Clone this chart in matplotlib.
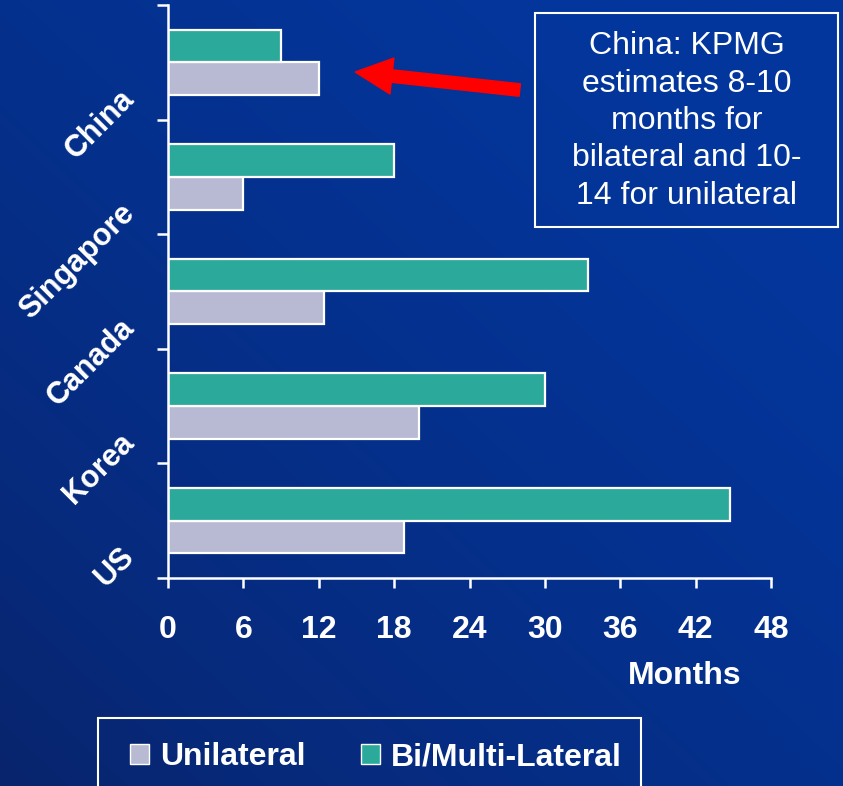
import numpy as np
import matplotlib
matplotlib.use("Agg")
import matplotlib.pyplot as plt
import matplotlib.transforms as mtransforms
from matplotlib.patches import Patch

plt.rcParams['font.family'] = ['Liberation Sans', 'DejaVu Sans']

countries = ["US", "Korea", "Canada", "Singapore", "China"]
unilateral = [18.8, 20, 12.4, 6, 12]
bi_multi = [44.7, 30, 33.4, 18, 9]
x_ticks = [0, 6, 12, 18, 24, 30, 36, 42, 48]
note = "China: KPMG\nestimates 8-10\nmonths for\nbilateral and 10-\n14 for unilateral"

uni_color = "#B8BAD4"
bi_color = "#2BAA9B"
FS = 23

fig = plt.figure(figsize=(8.43, 7.86), dpi=100)

# blue gradient backdrop
bg = fig.add_axes([0, 0, 1, 1], zorder=-10)
gx, gy = np.meshgrid(np.linspace(0, 1, 300), np.linspace(1, 0, 300))
f = np.clip(0.55 * gx + 0.55 * gy + 0.1, 0, 1) ** 0.6
dark = np.array([10, 30, 92]) / 255
light = np.array([3, 54, 156]) / 255
img = dark + (light - dark) * f[..., None]
bg.imshow(img, aspect='auto', extent=[0, 1, 0, 1], interpolation='bilinear')
bg.axis('off')

ax = fig.add_axes([168 / 843, 1 - 578 / 786, (771 - 168) / 843, (578 - 5) / 786])
ax.patch.set_alpha(0)

y = np.arange(len(countries))
h = 0.285
ax.barh(y - h / 2, unilateral, height=h, color=uni_color, edgecolor='white', linewidth=1.6, label="Unilateral")
ax.barh(y + h / 2, bi_multi, height=h, color=bi_color, edgecolor='white', linewidth=1.6, label="Bi/Multi-Lateral")

ax.set_xlim(0, 48)
ax.set_ylim(-0.5, len(countries) - 0.5)
ax.set_xticks(x_ticks)
ax.set_xticklabels([str(t) for t in x_ticks], fontsize=FS, fontweight='bold', color='white')
ax.set_yticks(np.arange(len(countries) + 1) - 0.5)
ax.set_yticklabels([])
ax.tick_params(axis='x', colors='white', length=7, width=1.8, pad=20)
ax.tick_params(axis='y', colors='white', length=8, width=1.8)
for s in ['top', 'right']:
    ax.spines[s].set_visible(False)
for s in ['left', 'bottom']:
    ax.spines[s].set_color('white')
    ax.spines[s].set_linewidth(1.8)

# rotated country labels
lab_tr = mtransforms.offset_copy(ax.transData, fig=fig, x=-38, y=-32, units='dots')
for yi, name in zip(y, countries):
    ax.text(0, yi, name, transform=lab_tr, rotation=45, rotation_mode='anchor',
            ha='right', va='center', fontsize=FS - 1, fontweight='bold', color='white')

fig.text(685 / 843, 1 - 676 / 786, "Months", ha='center', va='center',
         fontsize=FS, fontweight='bold', color='white')

# note box and arrow
fig.text(687 / 843, 1 - 121 / 786, note, ha='center', va='center', fontsize=FS,
         color='white', linespacing=1.32)
fig.add_artist(plt.Rectangle((535 / 843, 1 - 227 / 786), 303 / 843, 214 / 786,
                             transform=fig.transFigure, fill=False, edgecolor='white', linewidth=1.5))
ax.annotate("", xy=(14.9, 3.915), xytext=(28.0, 3.758),
            arrowprops=dict(arrowstyle='simple,head_length=1.33,head_width=1.3,tail_width=0.45',
                            mutation_scale=20, color='#FF0000', shrinkA=0, shrinkB=0))

# legend with its own frame running off the bottom edge
fig.add_artist(plt.Rectangle((98 / 843, -0.05), 543 / 843, 0.05 + 1 - 718 / 786,
                             transform=fig.transFigure, fill=False, edgecolor='white', linewidth=1.5))
handles = [Patch(facecolor=uni_color, edgecolor='white', label="Unilateral"),
           Patch(facecolor=bi_color, edgecolor='white', label="Bi/Multi-Lateral")]
leg = fig.legend(handles=handles, loc='center left', bbox_to_anchor=(130 / 843, 1 - 757 / 786),
                 ncol=2, frameon=False, fontsize=FS, handlelength=0.58,
                 handleheight=0.58, handletextpad=0.35, columnspacing=1.75, borderpad=0,
                 borderaxespad=0)
for t in leg.get_texts():
    t.set_color('white')
    t.set_fontweight('bold')

fig.savefig("out.png", dpi=100)
